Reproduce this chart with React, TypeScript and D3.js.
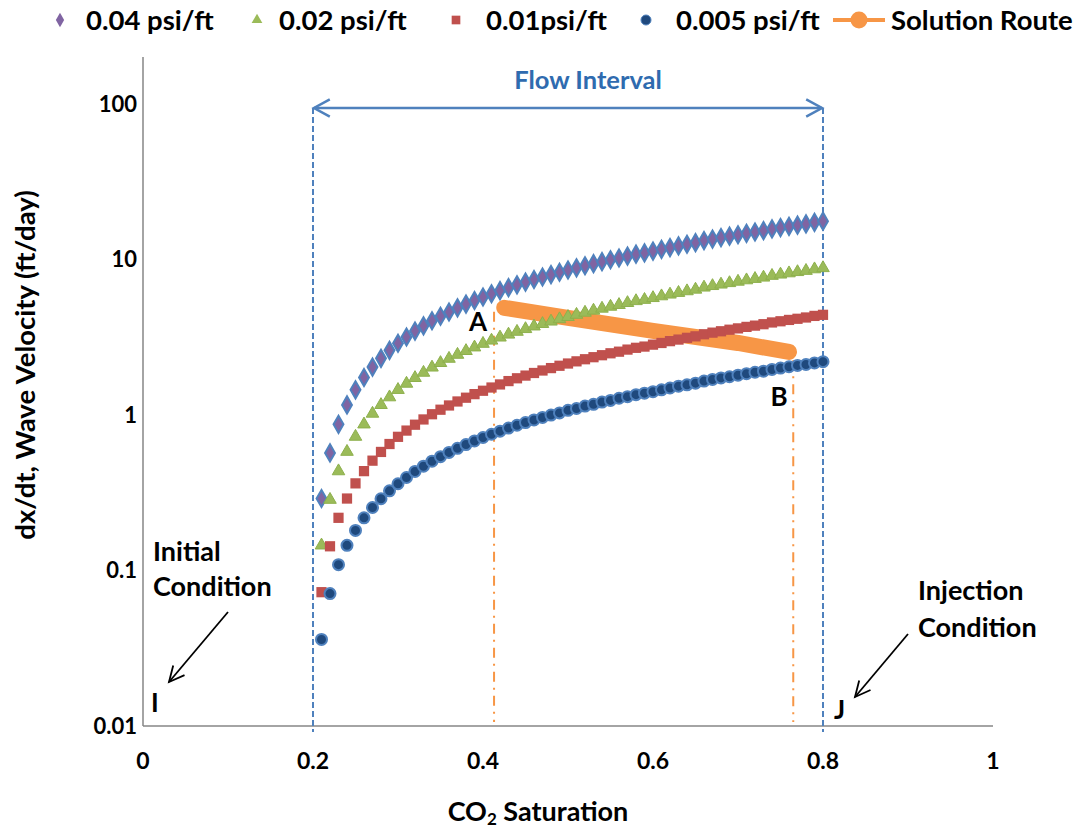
import React from "react";
import * as d3 from "d3";

const saturation = [
  0.21, 0.22, 0.23, 0.24, 0.25, 0.26, 0.27, 0.28, 0.29, 0.3,
  0.31, 0.32, 0.33, 0.34, 0.35, 0.36, 0.37, 0.38, 0.39, 0.4,
  0.41, 0.42, 0.43, 0.44, 0.45, 0.46, 0.47, 0.48, 0.49, 0.5,
  0.51, 0.52, 0.53, 0.54, 0.55, 0.56, 0.57, 0.58, 0.59, 0.6,
  0.61, 0.62, 0.63, 0.64, 0.65, 0.66, 0.67, 0.68, 0.69, 0.7,
  0.71, 0.72, 0.73, 0.74, 0.75, 0.76, 0.77, 0.78, 0.79, 0.8,
];

const vel004 = [
  0.29, 0.57, 0.87, 1.16, 1.45, 1.74, 2.03, 2.31, 2.6, 2.89,
  3.17, 3.46, 3.74, 4.03, 4.31, 4.59, 4.88, 5.16, 5.44, 5.73,
  6.01, 6.29, 6.58, 6.86, 7.14, 7.42, 7.7, 7.98, 8.26, 8.54,
  8.82, 9.1, 9.38, 9.66, 9.94, 10.2, 10.5, 10.8, 11.0, 11.3,
  11.6, 11.9, 12.2, 12.5, 12.8, 13.2, 13.5, 13.8, 14.1, 14.4,
  14.7, 15.0, 15.3, 15.7, 16.0, 16.3, 16.6, 16.9, 17.3, 17.6,
];

const vel002 = [
  0.145, 0.285, 0.435, 0.58, 0.725, 0.87, 1.02, 1.16, 1.3, 1.45,
  1.59, 1.73, 1.87, 2.02, 2.16, 2.3, 2.44, 2.58, 2.72, 2.87,
  3.01, 3.15, 3.29, 3.43, 3.57, 3.71, 3.85, 3.99, 4.13, 4.27,
  4.41, 4.55, 4.69, 4.83, 4.97, 5.1, 5.25, 5.4, 5.5, 5.65,
  5.8, 5.95, 6.1, 6.25, 6.4, 6.6, 6.75, 6.9, 7.05, 7.2,
  7.35, 7.5, 7.65, 7.85, 8.0, 8.15, 8.3, 8.45, 8.65, 8.8,
];

const vel001 = [
  0.0725, 0.143, 0.218, 0.29, 0.363, 0.435, 0.508, 0.578, 0.65, 0.723,
  0.793, 0.865, 0.935, 1.01, 1.08, 1.15, 1.22, 1.29, 1.36, 1.43,
  1.5, 1.57, 1.65, 1.72, 1.79, 1.86, 1.93, 2.0, 2.07, 2.14,
  2.21, 2.28, 2.35, 2.42, 2.49, 2.55, 2.63, 2.7, 2.75, 2.83,
  2.9, 2.98, 3.05, 3.13, 3.2, 3.3, 3.38, 3.45, 3.53, 3.6,
  3.68, 3.75, 3.83, 3.93, 4.0, 4.08, 4.15, 4.23, 4.33, 4.4,
];

const vel0005 = [
  0.036, 0.071, 0.109, 0.145, 0.181, 0.218, 0.254, 0.289, 0.325, 0.361,
  0.396, 0.433, 0.468, 0.504, 0.539, 0.574, 0.61, 0.645, 0.68, 0.716,
  0.751, 0.786, 0.823, 0.858, 0.893, 0.928, 0.963, 0.998, 1.03, 1.07,
  1.1, 1.14, 1.17, 1.21, 1.24, 1.28, 1.31, 1.35, 1.38, 1.41,
  1.45, 1.49, 1.53, 1.56, 1.6, 1.65, 1.69, 1.73, 1.76, 1.8,
  1.84, 1.88, 1.91, 1.96, 2.0, 2.04, 2.08, 2.11, 2.16, 2.2,
];

const routeSat = [0.425, 0.5, 0.6, 0.7, 0.76];
const routeVel = [4.88, 4.21, 3.47, 2.9, 2.54];

const xTicks = [0, 0.2, 0.4, 0.6, 0.8, 1];
const xTickLabels = ["0", "0.2", "0.4", "0.6", "0.8", "1"];
const yTicks = [0.01, 0.1, 1, 10, 100];
const yTickLabels = ["0.01", "0.1", "1", "10", "100"];

const flowBounds = [0.2, 0.8];
const routeBounds = [0.413, 0.765];
const routeBoundTops = [4.6, 2.25];

const legendLabels = ["0.04 psi/ft", "0.02 psi/ft", "0.01psi/ft", "0.005 psi/ft", "Solution Route"];

const FONT = "Lato, 'Open Sans', sans-serif";
const BLUE = "#4F81BD";
const ORANGE = "#F79646";

export default function App() {
  const x = d3.scaleLinear().domain([0, 1]).range([143, 993]);
  const y = d3.scaleLog().domain([0.01, 200]).range([726, 57]);

  const routeLine = d3
    .line<number>()
    .x((_, i) => x(routeSat[i]))
    .y((d) => y(d));

  const diamond = d3.symbol().type(d3.symbolDiamond).size(85)() as string;
  const triangle = d3.symbol().type(d3.symbolTriangle).size(68)() as string;
  const square = d3.symbol().type(d3.symbolSquare).size(105)() as string;

  const arrowHead = (x1: number, y1: number, x2: number, y2: number, len: number, spread: number) => {
    const ang = Math.atan2(y2 - y1, x2 - x1);
    const a1 = ang + Math.PI - spread;
    const a2 = ang + Math.PI + spread;
    return `M${x2 + len * Math.cos(a1)},${y2 + len * Math.sin(a1)}L${x2},${y2}L${x2 + len * Math.cos(a2)},${y2 + len * Math.sin(a2)}`;
  };

  const fy = 108;
  const fx1 = x(flowBounds[0]);
  const fx2 = x(flowBounds[1]);

  const legendMarkerX = [60, 257, 456, 646];
  const legendTextX = [86, 279, 486, 676, 891];
  const ly = 20;

  return (
    <div style={{ position: "absolute", left: 0, top: 0 }}>
      <svg width={1084} height={831} style={{ display: "block", background: "#fff" }}>
        <line x1={x(0)} x2={x(0)} y1={y(200)} y2={y(0.01)} stroke="#868686" strokeWidth={1.5} />
        <line x1={x(0)} x2={x(1)} y1={y(0.01)} y2={y(0.01)} stroke="#868686" strokeWidth={1.5} />

        {yTicks.map((t, i) => (
          <text key={"yt" + i} x={137} y={y(t) + 8} textAnchor="end" fontFamily={FONT} fontWeight="bold" fontSize={22} fill="#000">
            {yTickLabels[i]}
          </text>
        ))}
        {xTicks.map((t, i) => (
          <text key={"xt" + i} x={x(t)} y={769} textAnchor="middle" fontFamily={FONT} fontWeight="bold" fontSize={23} fill="#000">
            {xTickLabels[i]}
          </text>
        ))}

        <text x={538} y={821} textAnchor="middle" fontFamily={FONT} fontWeight="bold" fontSize={27} fill="#000">
          CO<tspan fontSize={17} dy={4}>2</tspan>
          <tspan dy={-4}> Saturation</tspan>
        </text>
        <text
          transform={`translate(35,365) rotate(-90)`}
          textAnchor="middle"
          fontFamily={FONT}
          fontWeight="bold"
          fontSize={27.5}
          fill="#000"
        >
          dx/dt, Wave Velocity (ft/day)
        </text>

        {flowBounds.map((b, i) => (
          <line key={"fb" + i} x1={x(b)} x2={x(b)} y1={fy} y2={732} stroke={BLUE} strokeWidth={2} strokeDasharray="6,3" />
        ))}
        {routeBounds.map((b, i) => (
          <line key={"rb" + i} x1={x(b)} x2={x(b)} y1={y(routeBoundTops[i])} y2={722} stroke={ORANGE} strokeWidth={2} strokeDasharray="10,6,2,6" />
        ))}

        <line x1={fx1 + 1} x2={fx2 - 1} y1={fy} y2={fy} stroke={BLUE} strokeWidth={2.5} />
        <path d={arrowHead(fx2, fy, fx1 + 1, fy, 18, 0.5)} fill="none" stroke={BLUE} strokeWidth={2.5} />
        <path d={arrowHead(fx1, fy, fx2 - 1, fy, 18, 0.5)} fill="none" stroke={BLUE} strokeWidth={2.5} />
        <text x={(fx1 + fx2) / 2 + 20} y={89} textAnchor="middle" fontFamily={FONT} fontWeight="bold" fontSize={25.5} fill="#2F6BAF">
          Flow Interval
        </text>

        <path d={routeLine(routeVel) as string} fill="none" stroke={ORANGE} strokeWidth={16} strokeLinecap="round" strokeLinejoin="round" />

        {vel004.map((v, i) => (
          <path key={"d" + i} d={diamond} transform={`translate(${x(saturation[i])},${y(v)})`} fill="#8064A2" stroke={BLUE} strokeWidth={2} />
        ))}
        {vel002.map((v, i) => (
          <path key={"t" + i} d={triangle} transform={`translate(${x(saturation[i])},${y(v)})`} fill="#9BBB59" stroke="#8DB04C" strokeWidth={1} />
        ))}
        {vel001.map((v, i) => (
          <path key={"s" + i} d={square} transform={`translate(${x(saturation[i])},${y(v)})`} fill="#C0504D" />
        ))}
        {vel0005.map((v, i) => (
          <circle key={"c" + i} cx={x(saturation[i])} cy={y(v)} r={5.5} fill="#1F497D" stroke="#4F81BD" strokeWidth={2} />
        ))}

        <text x={478} y={331} textAnchor="middle" fontFamily={FONT} fontWeight="bold" fontSize={26} fill="#000">A</text>
        <text x={779} y={406} textAnchor="middle" fontFamily={FONT} fontWeight="bold" fontSize={26} fill="#000">B</text>

        <text fontFamily={FONT} fontWeight="bold" fontSize={27} fill="#000">
          <tspan x={153} y={561}>Initial</tspan>
          <tspan x={153} y={596}>Condition</tspan>
        </text>
        <line x1={228} y1={612} x2={169} y2={682} stroke="#000" strokeWidth={1.8} />
        <path d={arrowHead(228, 612, 169, 682, 17, 0.45)} fill="none" stroke="#000" strokeWidth={1.8} />
        <text x={151} y={712} fontFamily={FONT} fontWeight="bold" fontSize={26} fill="#000">I</text>

        <text fontFamily={FONT} fontWeight="bold" fontSize={27} fill="#000">
          <tspan x={918} y={600}>Injection</tspan>
          <tspan x={918} y={637}>Condition</tspan>
        </text>
        <line x1={908} y1={634} x2={855} y2={697} stroke="#000" strokeWidth={1.8} />
        <path d={arrowHead(908, 634, 855, 697, 17, 0.45)} fill="none" stroke="#000" strokeWidth={1.8} />
        <text x={834} y={719} fontFamily={FONT} fontWeight="bold" fontSize={26} fill="#000">J</text>

        <path d={d3.symbol().type(d3.symbolDiamond).size(60)() as string} transform={`translate(${legendMarkerX[0]},${ly})`} fill="#8064A2" />
        <path d={d3.symbol().type(d3.symbolTriangle).size(50)() as string} transform={`translate(${legendMarkerX[1]},${ly})`} fill="#9BBB59" />
        <path d={d3.symbol().type(d3.symbolSquare).size(75)() as string} transform={`translate(${legendMarkerX[2]},${ly})`} fill="#C0504D" />
        <circle cx={legendMarkerX[3]} cy={ly} r={5} fill="#1F497D" stroke={BLUE} strokeWidth={1} />
        <line x1={833} x2={885} y1={ly} y2={ly} stroke={ORANGE} strokeWidth={4} />
        <circle cx={859} cy={ly} r={8.5} fill={ORANGE} />
        {legendLabels.map((l, i) => (
          <text key={"lg" + i} x={legendTextX[i]} y={ly + 10} fontFamily={FONT} fontWeight="bold" fontSize={27.5} fill="#000">
            {l}
          </text>
        ))}
      </svg>
    </div>
  );
}
